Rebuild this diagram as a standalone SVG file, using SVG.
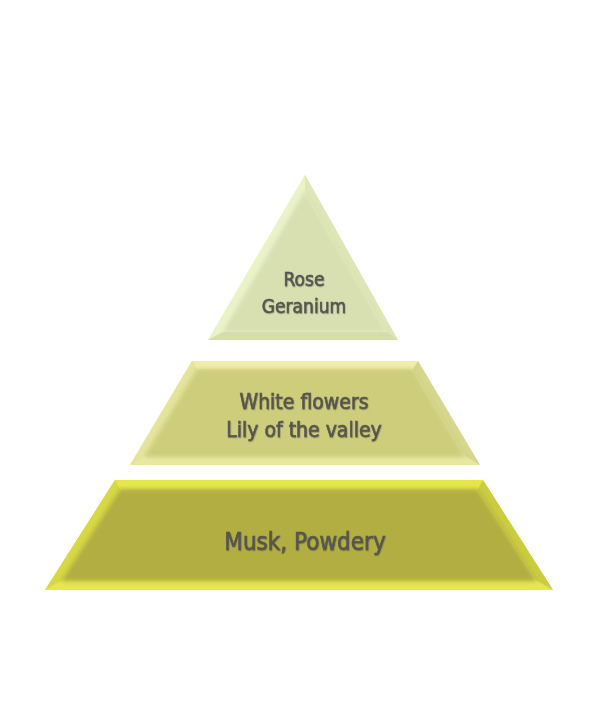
<svg xmlns="http://www.w3.org/2000/svg" width="600" height="726" viewBox="0 0 600 726">
  <defs>
    <filter id="soft" x="-10%" y="-10%" width="120%" height="120%">
      <feGaussianBlur stdDeviation="2.2"/>
    </filter>
    <filter id="txt" x="-5%" y="-20%" width="110%" height="140%">
      <feDropShadow dx="0.5" dy="0.7" stdDeviation="0.5" flood-color="#2a2a20" flood-opacity="0.4"/>
    </filter>
  </defs>
  <style>
    .lbl { font-family: "DejaVu Sans Condensed", "DejaVu Sans", "Liberation Sans", sans-serif; fill: #56564f; stroke: #56564f; stroke-width: 0.55; text-anchor: middle; font-stretch: condensed; filter: url(#txt); }
  </style>
  <rect width="600" height="726" fill="#ffffff"/>

  <g id="top">
    <polygon points="305,175 208,340 398,340" fill="#e6eec4"/>
    <polygon points="305,175 208,340 223,332 305,191" fill="#eaf2c8"/>
    <polygon points="305,175 398,340 387,332 305,191" fill="#dde6b6"/>
    <polygon points="208,340 398,340 387,332 223,332" fill="#d4dcaa"/>
    <polygon points="305,191 223,332 387,332" fill="#d8e0b2" filter="url(#soft)"/>
    <text class="lbl" x="304" y="286" font-size="19">Rose</text>
    <text class="lbl" x="304" y="313" font-size="19">Geranium</text>
  </g>

  <g id="middle">
    <polygon points="192,361 418,361 480,465 130,465" fill="#e6e6a0"/>
    <polygon points="192,361 418,361 413,369 197,369" fill="#eeeeaa"/>
    <polygon points="192,361 197,369 144,457 130,465" fill="#e4e49c"/>
    <polygon points="418,361 480,465 466,457 413,369" fill="#d6d68e"/>
    <polygon points="130,465 480,465 466,457 144,457" fill="#e8e8a2"/>
    <polygon points="197,369 413,369 466,457 144,457" fill="#cdcd7c" filter="url(#soft)"/>
    <text class="lbl" x="304" y="409" font-size="21">White flowers</text>
    <text class="lbl" x="304" y="437" font-size="21">Lily of the valley</text>
  </g>

  <g id="bottom">
    <polygon points="115,480 483,480 553,590 45,590" fill="#e0e048"/>
    <polygon points="115,480 483,480 478,489 120,489" fill="#e6e64c"/>
    <polygon points="115,480 120,489 61,581 45,590" fill="#d8d844"/>
    <polygon points="483,480 553,590 537,581 478,489" fill="#cccc40"/>
    <polygon points="45,590 553,590 537,581 61,581" fill="#e6e64e"/>
    <polygon points="120,489 478,489 537,581 61,581" fill="#b2ae42" filter="url(#soft)"/>
    <text class="lbl" x="305" y="550" font-size="24">Musk, Powdery</text>
  </g>

  <g id="connectors"></g>
</svg>
